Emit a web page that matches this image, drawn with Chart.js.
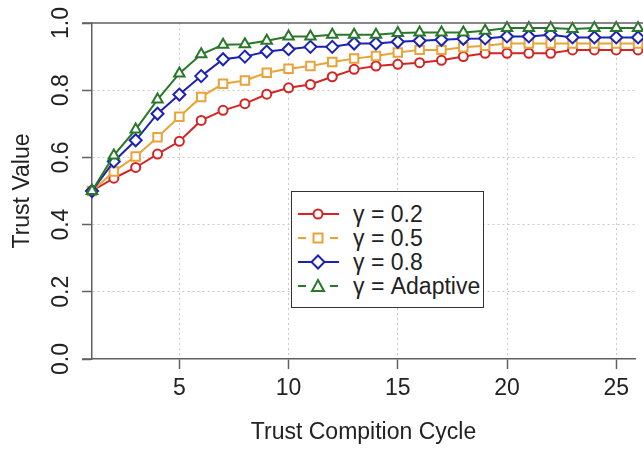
<!DOCTYPE html>
<html>
<head>
<meta charset="utf-8">
<script src="https://cdn.jsdelivr.net/npm/chart.js@4.4.1/dist/chart.umd.min.js"></script>
<style>
  body { margin: 0; background: #fff; }
  #wrap { position: relative; width: 643px; height: 449px; overflow: hidden; }
  #legend {
    position: absolute; left: 291px; top: 191px; width: 193px; height: 117px;
    border: 1.5px solid #333; background: #fff; box-sizing: border-box;
    font-family: "Liberation Sans", Arial, sans-serif; font-size: 23px; color: #222;
  }
  .row { position: absolute; left: 0; height: 24px; width: 100%; }
  .row svg { position: absolute; left: 4px; top: 0; }
  .row span { position: absolute; left: 61px; top: 0; line-height: 24px; white-space: nowrap; }
</style>
</head>
<body>
<div id="wrap">
  <canvas id="myChart" width="643" height="449"></canvas>
  <div id="legend"></div>
</div>
<script>
let cycles = [1, 2, 3, 4, 5, 6, 7, 8, 9, 10, 11, 12, 13, 14, 15, 16, 17, 18, 19, 20, 21, 22, 23, 24, 25, 26];
let gamma02 = [0.50, 0.538, 0.570, 0.610, 0.648, 0.710, 0.740, 0.760, 0.788, 0.807, 0.817, 0.840, 0.862,
               0.872, 0.877, 0.882, 0.889, 0.900, 0.910, 0.910, 0.910, 0.910, 0.920, 0.920, 0.920, 0.920];
let gamma05 = [0.50, 0.558, 0.603, 0.660, 0.721, 0.780, 0.819, 0.829, 0.852, 0.864, 0.872, 0.884, 0.894,
               0.902, 0.912, 0.920, 0.920, 0.928, 0.932, 0.939, 0.939, 0.939, 0.939, 0.939, 0.939, 0.939];
let gamma08 = [0.50, 0.588, 0.651, 0.730, 0.787, 0.842, 0.892, 0.900, 0.915, 0.922, 0.929, 0.929, 0.939,
               0.939, 0.944, 0.947, 0.950, 0.953, 0.954, 0.960, 0.960, 0.965, 0.957, 0.957, 0.957, 0.957];
let gammaAdaptive = [0.50, 0.606, 0.683, 0.772, 0.850, 0.907, 0.935, 0.937, 0.947, 0.960, 0.960, 0.965, 0.965,
                     0.965, 0.970, 0.972, 0.972, 0.972, 0.977, 0.985, 0.985, 0.985, 0.982, 0.985, 0.985, 0.985];
let seriesNames = ['γ = 0.2', 'γ = 0.5', 'γ = 0.8', 'γ = Adaptive'];
let xTicks = [5, 10, 15, 20, 25];
let yTicks = [0, 0.2, 0.4, 0.6, 0.8, 1.0];

let colors = ['#d42424', '#e8a43a', '#1c22b4', '#28782a'];
let styles = ['circle', 'rect', 'rectRot', 'triangle'];
let radii = [4.5, 6, 6, 6];
let allSeries = [gamma02, gamma05, gamma08, gammaAdaptive];

const font = "'Liberation Sans', Arial, sans-serif";

function toPoints(values) {
  return cycles.map((c, i) => ({ x: c, y: values[i] }));
}

// R style box: solid top line and bottom line running a bit left of the y axis
const boxLines = {
  id: 'boxLines',
  afterDraw(chart) {
    const { ctx, chartArea } = chart;
    ctx.save();
    ctx.strokeStyle = '#606060';
    ctx.lineWidth = 1.5;
    ctx.beginPath();
    ctx.moveTo(82, chartArea.top);
    ctx.lineTo(chart.width, chartArea.top);
    ctx.moveTo(82, chartArea.bottom);
    ctx.lineTo(chartArea.left, chartArea.bottom);
    ctx.stroke();
    ctx.restore();
  }
};

let ctx = document.getElementById('myChart').getContext('2d');
let chart = new Chart(ctx, {
  type: 'line',
  data: {
    datasets: allSeries.map((s, i) => ({
      label: seriesNames[i],
      data: toPoints(s),
      borderColor: colors[i],
      borderWidth: 2,
      pointStyle: styles[i],
      pointRadius: radii[i],
      pointBorderWidth: 2,
      pointBorderColor: colors[i],
      pointBackgroundColor: '#fff',
      clip: false,
      order: 4 - i
    }))
  },
  options: {
    responsive: false,
    animation: false,
    layout: { padding: { top: 23, right: 0, left: 0, bottom: 0 } },
    plugins: { legend: { display: false }, tooltip: { enabled: false } },
    scales: {
      x: {
        type: 'linear',
        min: 1,
        max: 25.86,
        afterFit(scale) { scale.height = 90; },
        afterBuildTicks(scale) { scale.ticks = xTicks.map(v => ({ value: v })); },
        grid: { color: '#c8c8c8', lineWidth: 1, tickLength: 10, tickColor: '#606060', tickWidth: 1.5 },
        border: { color: '#606060', width: 1.5, dash: [2, 3] },
        ticks: { color: '#222', font: { family: font, size: 23 }, padding: 6, maxRotation: 0 },
        title: { display: true, text: 'Trust Compition Cycle', color: '#222',
                 font: { family: font, size: 23 }, padding: { top: 0, bottom: 3 } }
      },
      y: {
        min: 0,
        max: 1,
        afterFit(scale) { scale.width = 92; },
        afterBuildTicks(scale) { scale.ticks = yTicks.map(v => ({ value: v })); },
        grid: {
          color: c => (c.tick && (c.tick.value === 0 || c.tick.value === 1)) ? 'rgba(0,0,0,0)' : '#c8c8c8',
          lineWidth: 1, tickLength: 10, tickColor: '#606060', tickWidth: 1.5
        },
        border: { color: '#606060', width: 1.5, dash: [2, 3] },
        ticks: {
          color: '#222', font: { family: font, size: 23 }, padding: 4,
          minRotation: 90, maxRotation: 90, crossAlign: 'center',
          callback: v => v.toFixed(1)
        },
        title: { display: true, text: 'Trust Value', color: '#222',
                 font: { family: font, size: 23 }, padding: { top: 9, bottom: 0 } }
      }
    }
  },
  plugins: [boxLines]
});

// legend box, drawn as html like the R legend
let legend = document.getElementById('legend');
seriesNames.forEach((name, i) => {
  let row = document.createElement('div');
  row.className = 'row';
  row.style.top = (10 + i * 24) + 'px';
  let dashed = (i === 1 || i === 3);
  let c = colors[i];
  let line = dashed
    ? `<line x1="2" y1="12" x2="10" y2="12" stroke="${c}" stroke-width="2"/><line x1="34" y1="12" x2="42" y2="12" stroke="${c}" stroke-width="2"/>`
    : `<line x1="2" y1="12" x2="43" y2="12" stroke="${c}" stroke-width="2"/>`;
  let mark;
  if (i === 0) mark = `<circle cx="22" cy="12" r="4.5" fill="#fff" stroke="${c}" stroke-width="2"/>`;
  if (i === 1) mark = `<rect x="17.5" y="7.5" width="9" height="9" fill="#fff" stroke="${c}" stroke-width="2"/>`;
  if (i === 2) mark = `<polygon points="22,5.5 28.5,12 22,18.5 15.5,12" fill="#fff" stroke="${c}" stroke-width="2"/>`;
  if (i === 3) mark = `<polygon points="22,6 28,17 16,17" fill="#fff" stroke="${c}" stroke-width="2"/>`;
  row.innerHTML = `<svg width="46" height="24">${line}${mark}</svg><span>${name}</span>`;
  legend.appendChild(row);
});
</script>
</body>
</html>
